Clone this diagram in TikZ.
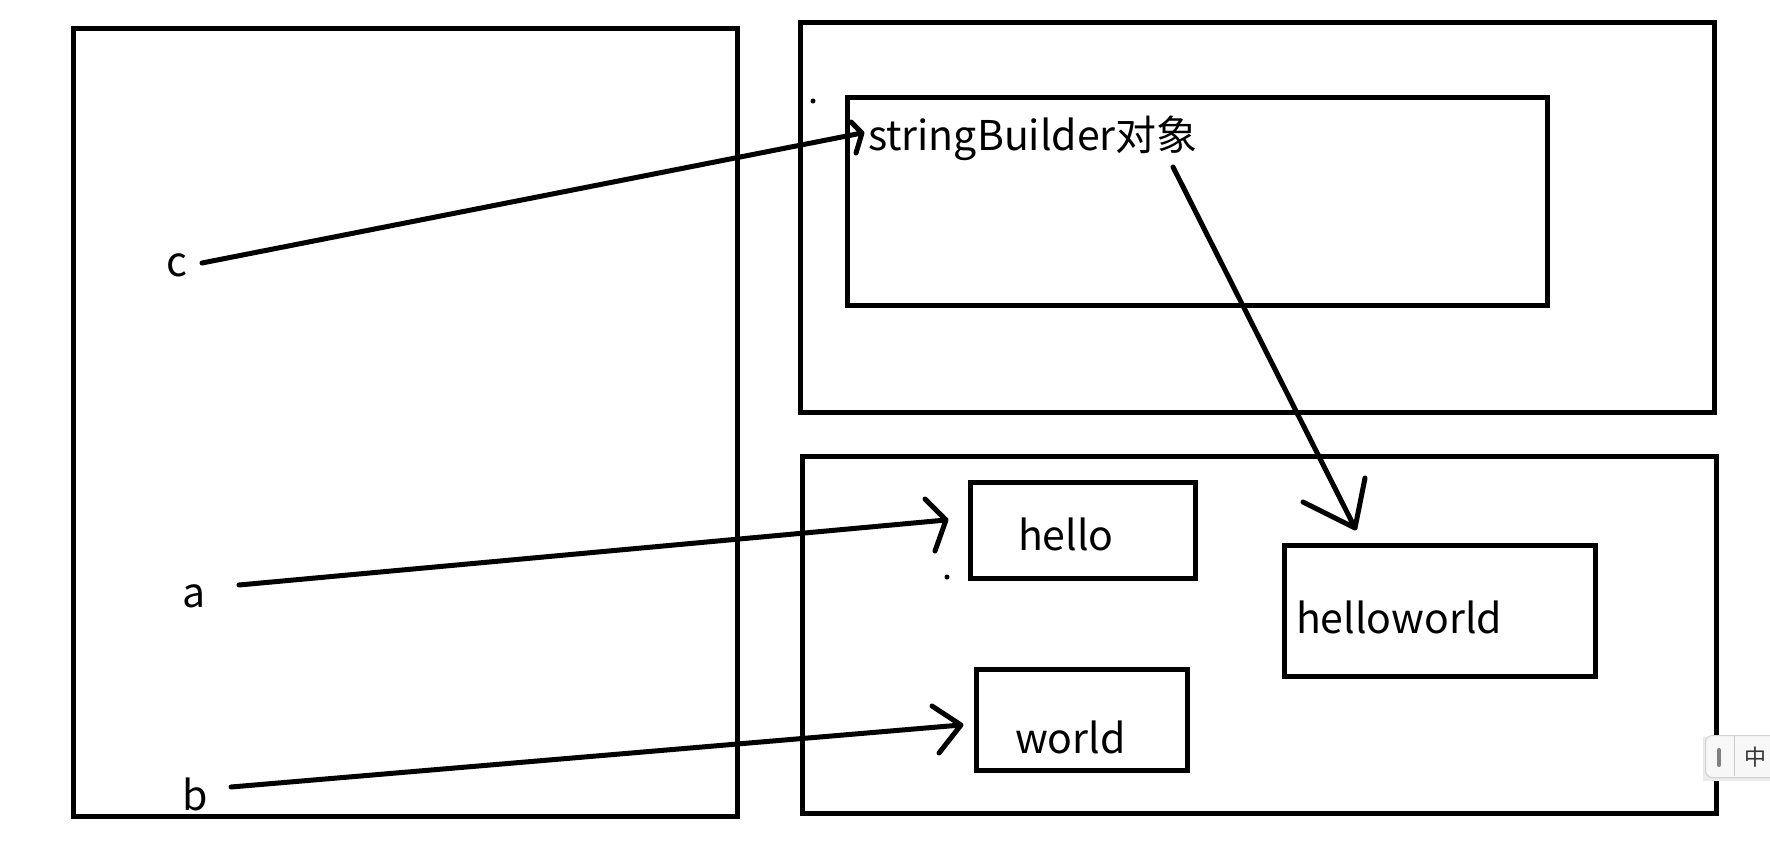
\documentclass[tikz,border=0pt]{standalone}
\usepackage{fontspec}
\setmainfont{Noto Sans CJK SC}
\begin{document}
\begin{tikzpicture}[x=1pt,y=-1pt,
  box/.style={draw=black,line width=5pt,rectangle,anchor=north west,inner sep=0pt,outer sep=0pt},
  lbl/.style={anchor=base west,inner sep=0pt,outer sep=0pt,font=\fontsize{41}{41}\selectfont},
  conn/.style={line width=5pt,line cap=round,line join=round},
  dotty/.style={fill=black,circle,inner sep=0pt,minimum size=5pt}]
\useasboundingbox (0,0) rectangle (1770,844);
\fill[white] (0,0) rectangle (1770,844);
% boxes
\node[box,minimum width=664pt,minimum height=788pt] (stack) at (73.5,28.5) {};
\node[box,minimum width=914pt,minimum height=390pt] (heaptop) at (800.5,22.5) {};
\node[box,minimum width=700pt,minimum height=208pt] (sbbox) at (847,97) {};
\node[box,minimum width=913.5pt,minimum height=356.5pt] (heapbot) at (802.5,456.5) {};
\node[box,minimum width=225pt,minimum height=96pt] (hellobox) at (970,482) {};
\node[box,minimum width=311pt,minimum height=131pt] (hwbox) at (1284,545) {};
\node[box,minimum width=211pt,minimum height=100.5pt] (worldbox) at (976,669.5) {};
% labels
\node[lbl] (sb) at (868,150) {stringBuilder对象};
\node[lbl] (hello) at (1018,550) {hello};
\node[lbl] (hw) at (1296,633) {helloworld};
\node[lbl] (world) at (1015,753) {world};
\node[lbl] (c) at (166,276) {c};
\node[lbl] (a) at (182,607) {a};
\node[lbl] (b) at (182,810) {b};
% dots
\node[dotty] (dot1) at (813,101) {};
\node[dotty] (dot2) at (947,577) {};
% connector points
\coordinate (cs) at (202,263);
\coordinate (ct) at (862,133);
\coordinate (cb1) at (851,122);
\coordinate (cb2) at (856,153);
\coordinate (as) at (239,585);
\coordinate (at) at (946,520);
\coordinate (ab1) at (925,499);
\coordinate (ab2) at (935,551);
\coordinate (bs) at (231,787);
\coordinate (bt) at (961,725);
\coordinate (bb1) at (932,706);
\coordinate (bb2) at (939,753);
\coordinate (ss) at (1173,167);
\coordinate (st) at (1355,528);
\coordinate (sb1) at (1303,502);
\coordinate (sb2) at (1365,478);
% connectors
\draw[conn] (cs) -- (ct) -- (cb1) (ct) -- (cb2);
\draw[conn] (as) -- (at) -- (ab1) (at) -- (ab2);
\draw[conn] (bs) -- (bt) -- (bb1) (bt) -- (bb2);
\draw[conn] (ss) -- (st) -- (sb1) (st) -- (sb2);
% IME widget
\fill[black!8] (1703,737) rectangle (1790,781);
\node[draw=black!18,fill=black!3,line width=1pt,rounded corners=7pt,anchor=north west,minimum width=90pt,minimum height=42pt,inner sep=0pt] (ime) at (1705,735) {};
\draw[black!20,line width=1pt] (1734,736) -- (1734,776);
\draw[black!50,line width=4pt,line cap=round] (1719,750) -- (1719,765);
\node[inner sep=0pt,font=\fontsize{22}{22}\selectfont,text=black!80] (zh) at (1755,757) {中};
\end{tikzpicture}
\end{document}
